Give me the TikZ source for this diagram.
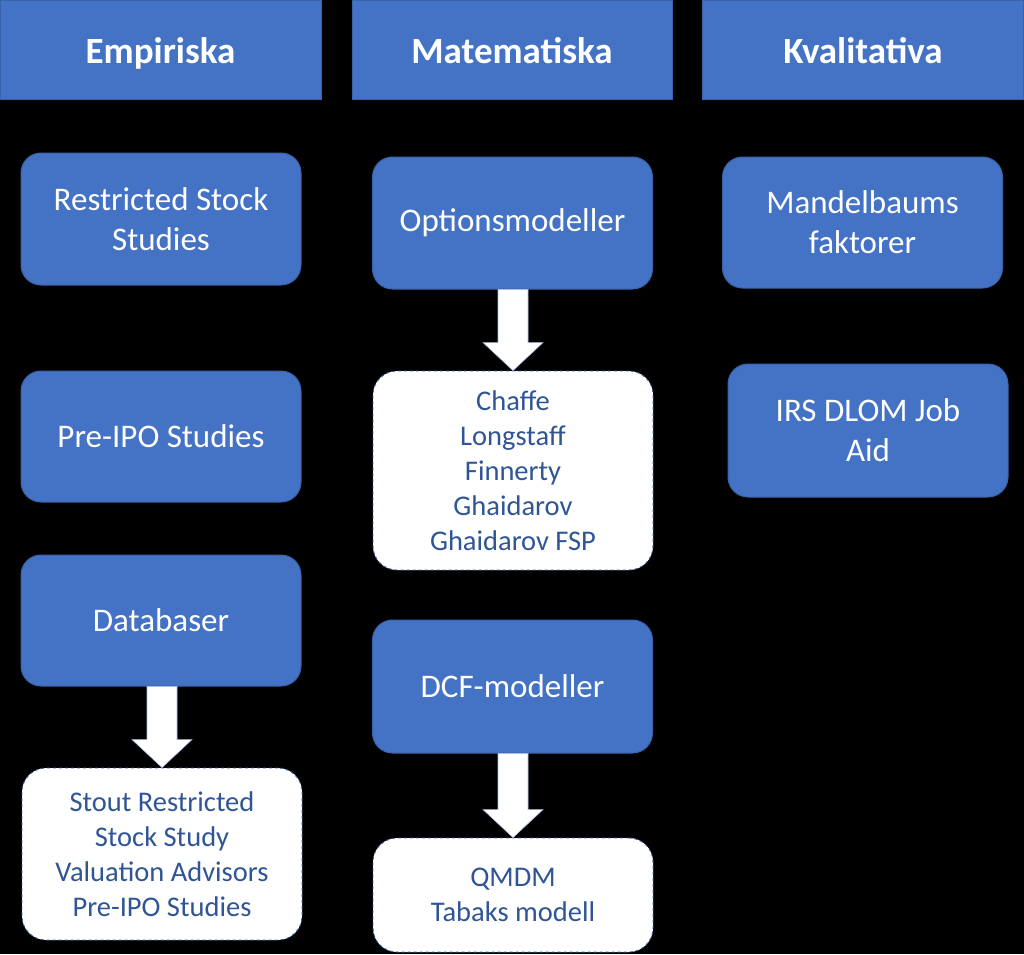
\documentclass[tikz,border=0pt]{standalone}
\usepackage{fontspec}
\setmainfont{Carlito}
\usetikzlibrary{calc}
\definecolor{boxblue}{HTML}{4472C4}
\definecolor{edgeblue}{HTML}{3A62A8}
\definecolor{textblue}{HTML}{2F5597}
\definecolor{arrowedge}{HTML}{A9BCE0}
\tikzset{
  header/.style={rectangle, fill=boxblue, draw=edgeblue, line width=1pt, text=white,
    font=\fontsize{37}{44}\selectfont\bfseries, inner sep=0pt, minimum height=99pt,
    text height=30pt, text depth=3pt},
  bluebox/.style={rectangle, rounded corners=20pt, fill=boxblue, draw=edgeblue, line width=1pt,
    text=white, font=\fontsize{33}{40}\selectfont, align=center, inner sep=0pt, minimum width=280pt},
  whitebox/.style={rectangle, rounded corners=24pt, fill=white, draw=edgeblue, dashed, line width=0.9pt,
    text=textblue, font=\fontsize{28.5}{35}\selectfont, align=center, inner sep=0pt, minimum width=280pt},
  arrowstyle/.style={fill=white, draw=arrowedge, line width=0.6pt, line join=miter}
}
\newcommand{\blockarr}[2]{%
  \filldraw[arrowstyle] ($(#1.south -| #2.north)+(-15,0)$) -- ($(#2.north)+(-15,-28)$)
    -- ($(#2.north)+(-30,-28)$) -- (#2.north) -- ($(#2.north)+(30,-28)$)
    -- ($(#2.north)+(15,-28)$) -- ($(#1.south -| #2.north)+(15,0)$) -- cycle;}
\begin{document}
\begin{tikzpicture}[x=1pt, y=-1pt]
\fill[black] (0,0) rectangle (1024,954);
\useasboundingbox (0,0) rectangle (1024,954);
% headers
\node[header, minimum width=321pt] (emp) at (160.5,49.5) {Empiriska};
\node[header, minimum width=320pt] (mat) at (512,49.5) {Matematiska};
\node[header, minimum width=321pt] (kval) at (863,49.5) {Kvalitativa};
% Empiriska column
\node[bluebox, minimum height=132pt] (rss) at (161,219) {Restricted Stock\\Studies};
\node[bluebox, minimum height=131pt] (pipo) at (161,436.5) {Pre-IPO Studies};
\node[bluebox, minimum height=131pt] (db) at (161,620.5) {Databaser};
\node[whitebox, minimum height=172pt] (stout) at (162,854) {Stout Restricted\\Stock Study\\Valuation Advisors\\Pre-IPO Studies};
% Matematiska column
\node[bluebox, minimum height=132pt] (opt) at (512.5,223) {Optionsmodeller};
\node[whitebox, minimum height=199pt] (chaffe) at (513,470.5) {Chaffe\\Longstaff\\Finnerty\\Ghaidarov\\Ghaidarov FSP};
\node[bluebox, minimum height=133pt] (dcf) at (512.5,686.5) {DCF-modeller};
\node[whitebox, minimum height=114pt] (qmdm) at (513,895) {\raisebox{-2pt}{QMDM}\\\raisebox{-2pt}{Tabaks modell}};
% Kvalitativa column
\node[bluebox, minimum height=131pt] (mandel) at (862.5,222.5) {Mandelbaums\\faktorer};
\node[bluebox, minimum height=133pt] (irs) at (868,430.5) {IRS DLOM Job\\Aid};
% block arrows
\blockarr{opt}{chaffe}
\blockarr{db}{stout}
\blockarr{dcf}{qmdm}
\end{tikzpicture}
\end{document}
